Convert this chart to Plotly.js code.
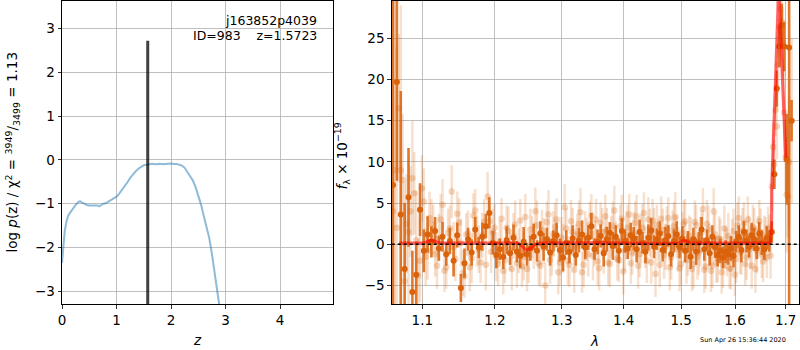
<!DOCTYPE html>
<html>
<head>
<meta charset="utf-8">
<script src="https://cdn.plot.ly/plotly-3.0.1.min.js"></script>
<style>html,body{margin:0;padding:0;background:#fff;}#chart{width:800px;height:350px;}</style>
</head>
<body>
<div id="chart"></div>
<script>
// ---- left panel: redshift probability ----
const zGrid = [0.00,0.02,0.05,0.08,0.11,0.14,0.18,0.22,0.26,0.30,0.33,0.36,0.39,0.42,0.46,0.50,0.55,0.60,0.65,0.68,0.72,0.76,0.80,0.85,0.90,0.95,1.00,1.05,1.10,1.15,1.20,1.25,1.30,1.35,1.40,1.45,1.50,1.55,1.60,1.65,1.70,1.75,1.80,1.85,1.90,1.95,2.00,2.05,2.10,2.15,2.20,2.25,2.30,2.35,2.40,2.45,2.50,2.55,2.60,2.65,2.70,2.75,2.80,2.85,2.90];
const logPz = [-2.35,-1.95,-1.62,-1.42,-1.28,-1.22,-1.14,-1.07,-1.01,-0.96,-0.94,-0.97,-0.99,-1.02,-1.03,-1.04,-1.04,-1.05,-1.04,-1.06,-1.03,-1.00,-0.99,-0.95,-0.90,-0.88,-0.84,-0.77,-0.69,-0.60,-0.51,-0.41,-0.33,-0.26,-0.20,-0.16,-0.12,-0.11,-0.10,-0.09,-0.10,-0.09,-0.09,-0.10,-0.09,-0.08,-0.08,-0.09,-0.09,-0.11,-0.13,-0.18,-0.28,-0.38,-0.47,-0.62,-0.80,-1.02,-1.28,-1.52,-1.78,-2.15,-2.55,-2.95,-3.45];
const zBest = 1.5723;
const zLineY = [-4, 2.72];

// ---- right panel: spectrum ----
const lamA = [1.062,1.067,1.072,1.077,1.082,1.087,1.092,1.097,1.102,1.107,
1.112,1.117,1.122,1.127,1.132,1.137,1.142,1.147,1.152,1.157,
1.162,1.167,1.172,1.177,1.182,1.187,1.192,1.197,1.202,1.207,
1.212,1.217,1.222,1.227,1.232,1.237,1.242,1.247,1.252,1.257,
1.262,1.267,1.272,1.277,1.282,1.287,1.292,1.297,1.302,1.307,
1.312,1.317,1.322,1.327,1.332,1.337,1.342,1.347,1.352,1.357,
1.362,1.367,1.372,1.377,1.382,1.387,1.392,1.397,1.402,1.407,
1.412,1.417,1.422,1.427,1.432,1.437,1.442,1.447,1.452,1.457,
1.462,1.467,1.472,1.477,1.482,1.487,1.492,1.497,1.502,1.507,
1.512,1.517,1.522,1.527,1.532,1.537,1.542,1.547,1.552,1.557,
1.562,1.567,1.572,1.577,1.582,1.587,1.592,1.597,1.602,1.607,
1.612,1.617,1.622,1.627,1.632,1.637,1.642,1.647,1.652,1.657,
1.662,1.667,1.672,1.677,1.682,1.687,1.692,1.697,1.702,1.707,
1.712];
const fluxDark = [7.2,19.7,3.6,-3.0,5.7,-5.8,-3.7,4.2,-0.8,1.2,
0.3,1.6,-0.5,0.9,-1.2,0.4,-2.0,1.1,-5.3,-2.3,
0.6,-1.0,1.8,-0.4,0.9,2.2,3.8,0.2,-1.3,-0.6,
-1.5,0.5,-1.1,0.8,-0.9,-1.4,0.3,-1.2,-0.5,0.9,
-0.8,1.3,-0.3,0.6,-1.0,0.4,1.1,-0.7,-1.6,0.2,
-0.9,0.7,-1.3,0.5,1.2,-0.4,0.8,2.2,-0.6,0.3,
1.0,-1.1,0.6,1.4,-0.2,0.9,-0.8,1.6,0.4,-0.5,
1.1,0.7,-0.6,1.5,0.2,-0.9,0.8,1.7,-0.3,0.6,
1.3,-0.7,0.5,1.0,-1.2,0.4,1.2,-0.4,0.7,-0.8,
0.3,-1.5,0.6,-0.9,0.2,1.8,-0.6,0.5,-1.1,0.9,
-0.4,-1.3,-0.8,-1.6,-0.9,-1.2,-0.5,-1.4,0.3,0.9,
-0.7,1.5,0.4,-0.3,1.1,0.6,-0.5,1.3,0.2,-0.6,
0.8,0.4,1.5,8.5,18.9,24.0,26.6,24.0,10.3,23.9,
15.0];
const errDark = [40,12,15,8,6,5,4,3.2,2.6,2.2,
1.9,1.7,1.5,1.8,1.4,1.6,1.9,1.5,1.7,1.8,
1.4,1.6,1.5,1.3,1.7,1.5,1.9,1.4,1.6,1.3,
1.5,1.7,1.4,1.6,1.3,1.5,1.8,1.4,1.5,1.6,
1.3,1.5,1.7,1.4,1.6,1.3,1.5,1.4,1.7,1.5,
1.4,1.6,1.3,1.5,1.7,1.4,1.5,1.6,1.3,1.5,
1.4,1.6,1.5,1.3,1.7,1.4,1.5,1.6,1.4,1.3,
1.5,1.4,1.6,1.5,1.3,1.4,1.6,1.5,1.4,1.3,
1.5,1.4,1.6,1.3,1.5,1.4,1.6,1.3,1.5,1.4,
1.3,1.5,1.4,1.6,1.3,1.5,1.4,1.3,1.5,1.4,
1.3,1.4,1.5,1.3,1.4,1.3,1.5,1.4,1.3,1.4,
1.5,1.3,1.4,1.3,1.5,1.4,1.3,1.4,1.5,1.3,
1.4,1.3,1.3,1.8,2.2,2.5,2.6,3.0,5.5,40,
2.5];

const lamB = [1.0645,1.0695,1.0745,1.0795,1.0845,1.0895,1.0945,1.0995,1.1045,1.1095,
1.1145,1.1195,1.1245,1.1295,1.1345,1.1395,1.1445,1.1495,1.1545,1.1595,
1.1645,1.1695,1.1745,1.1795,1.1845,1.1895,1.1945,1.1995,1.2045,1.2095,
1.2145,1.2195,1.2245,1.2295,1.2345,1.2395,1.2445,1.2495,1.2545,1.2595,
1.2645,1.2695,1.2745,1.2795,1.2845,1.2895,1.2945,1.2995,1.3045,1.3095,
1.3145,1.3195,1.3245,1.3295,1.3345,1.3395,1.3445,1.3495,1.3545,1.3595,
1.3645,1.3695,1.3745,1.3795,1.3845,1.3895,1.3945,1.3995,1.4045,1.4095,
1.4145,1.4195,1.4245,1.4295,1.4345,1.4395,1.4445,1.4495,1.4545,1.4595,
1.4645,1.4695,1.4745,1.4795,1.4845,1.4895,1.4945,1.4995,1.5045,1.5095,
1.5145,1.5195,1.5245,1.5295,1.5345,1.5395,1.5445,1.5495,1.5545,1.5595,
1.5645,1.5695,1.5745,1.5795,1.5845,1.5895,1.5945,1.5995,1.6045,1.6095,
1.6145,1.6195,1.6245,1.6295,1.6345,1.6395,1.6445,1.6495,1.6545,1.6595,
1.6645,1.6695,1.6745,1.6795,1.6845,1.6895,1.6945,1.6995,1.7045];
const fluxLightA = [9.0,16.5,7.8,2.5,4.0,6.2,-3.8,6.8,-1.5,3.2,
1.8,-2.6,3.0,-3.2,1.4,6.4,-1.8,2.6,-3.5,1.2,
-2.8,3.5,0.4,-2.2,2.7,5.8,-0.9,2.0,-2.4,3.1,
-1.9,1.6,-3.0,2.4,-0.8,-2.7,3.3,-1.6,0.9,4.0,
-2.3,1.7,-5.0,3.6,-1.2,2.1,-3.4,0.8,4.5,-2.0,
2.8,-3.1,1.2,3.9,-2.5,0.6,2.4,-1.4,3.0,-2.9,
1.5,3.4,-2.2,0.9,4.1,-1.7,2.2,-3.3,1.1,3.6,
-1.0,2.6,-2.6,0.7,3.8,-2.0,1.4,2.9,-3.6,0.5,
3.1,-1.3,2.0,-2.8,1.6,3.3,-0.6,-2.4,2.5,-1.9,
1.0,-3.0,2.7,-1.5,0.3,4.3,-2.7,1.8,-3.2,4.0,
-2.2,0.7,-3.4,1.9,-1.0,-2.9,0.4,-3.7,2.3,-1.1,
1.7,-2.4,3.0,-0.5,2.1,-3.0,0.8,1.5,-2.1,0.6,
2.0,-1.4,11.8,16.3,21.8,28.6,24.4,10.6,5.8];
const errLightA = [25,9,8,6,5.5,5,4.5,4,3.5,3.2,
3.0,2.8,3.1,2.6,2.9,3.2,2.7,3.0,2.8,2.6,
2.9,2.7,3.1,2.5,2.8,3.0,2.6,2.9,2.7,2.5,
2.8,3.0,2.6,2.9,2.7,2.5,2.8,3.1,2.6,2.9,
2.7,2.5,2.8,3.0,2.6,2.9,2.7,2.5,2.8,3.0,
2.6,2.8,2.5,2.9,2.7,2.6,2.8,3.0,2.5,2.7,
2.9,2.6,2.8,2.5,3.0,2.7,2.6,2.8,2.9,2.5,
2.7,2.6,2.8,3.0,2.5,2.7,2.9,2.6,2.8,2.5,
2.7,2.9,2.6,2.8,2.5,3.0,2.7,2.6,2.8,2.9,
2.5,2.7,2.6,2.8,3.0,2.5,2.7,2.9,2.6,2.8,
2.5,2.7,2.6,2.8,2.9,2.5,2.7,2.6,2.8,2.5,
2.7,2.6,2.8,2.5,2.7,2.9,2.6,2.8,2.5,2.7,
2.6,2.8,3.0,3.2,3.5,3.8,4.0,4.5,5.0];
const fluxLightB = [4.0,2.0,9.0,-4.5,1.5,8.0,0.5,-2.0,5.2,-0.8,
2.5,-1.2,0.8,4.8,-2.8,1.9,-0.3,3.7,0.2,-3.9,
1.3,-1.7,4.1,-0.6,1.1,-2.5,2.8,1.5,-1.5,0.3,
-3.2,2.0,-0.7,1.0,-2.3,2.9,-1.5,-3.0,1.8,-0.2,
2.3,-2.6,0.4,2.7,-1.9,1.3,3.0,-2.2,-0.5,1.9,
-2.5,1.5,-0.2,2.5,-3.4,1.0,-1.2,3.5,0.1,-2.1,
2.6,-0.9,1.8,-2.4,2.2,0.3,-1.9,3.1,-0.7,2.0,
-2.3,1.2,3.4,-1.2,2.0,-0.4,3.0,-2.2,1.6,2.3,
-2.5,1.7,-0.3,3.2,-1.6,2.2,0.9,-2.9,1.4,2.8,
-1.2,0.5,-2.4,2.3,-1.0,1.5,-3.1,2.5,0.0,-2.6,
1.2,-1.8,0.6,-2.6,-0.4,1.0,-3.0,1.6,-1.8,3.2,
-0.9,2.6,-1.6,0.9,-2.6,1.9,-0.8,2.8,-1.3,1.0,
-1.6,1.1,7.0,9.7,14.3,26.4,27.0,16.0,6.0,10.0,
15.0];
const errLightB = [30,22,20,12,9,7,6,5,4,3.5,
3.0,2.7,2.9,3.1,2.6,2.8,3.0,2.7,2.9,2.6,
2.8,3.0,2.6,2.9,2.7,3.1,2.5,2.8,3.0,2.6,
2.9,2.7,2.5,2.8,3.0,2.6,2.9,2.7,2.5,2.8,
3.0,2.6,2.8,2.5,2.9,2.7,2.6,2.8,3.0,2.5,
2.7,2.9,2.6,2.8,2.5,3.0,2.7,2.6,2.8,2.9,
2.5,2.7,2.6,2.8,3.0,2.5,2.7,2.9,2.6,2.8,
2.5,2.7,2.6,2.8,2.9,2.5,2.7,2.6,2.8,2.5,
2.7,2.6,2.8,2.5,2.7,2.9,2.6,2.8,2.5,2.7,
2.6,2.8,3.0,2.5,2.7,2.6,2.8,2.9,2.5,2.7,
2.6,2.8,2.5,2.7,2.6,2.8,2.5,2.7,2.9,2.6,
2.8,2.5,2.7,2.6,2.8,2.5,2.7,2.6,2.8,2.5,
2.5,2.5,3,3,4,4,5,6,7,8,
10];

const modelLam = [1.070,1.090,1.100,1.105,1.110,1.115,1.120,1.130,1.200,1.235,1.240,1.2465,1.252,1.257,1.262,1.270,1.400,1.495,1.500,1.5037,1.508,1.513,1.518,1.530,1.600,1.660,1.668,1.672,1.676,1.680,1.684,1.6855,1.690,1.695,1.700];
const modelFlux = [0.15,0.15,0.15,0.25,0.45,0.45,0.25,0.15,0.15,0.1,-0.25,-0.7,-0.5,-0.15,0.05,0.15,0.15,0.15,0.3,0.45,0.4,0.25,0.15,0.15,0.15,0.15,0.2,7,14,21,28,31,25.1,17.8,10.5];

const xTicksR = [1.1,1.2,1.3,1.4,1.5,1.6,1.7];
const xTickTextR = ['1.1','1.2','1.3','1.4','1.5','1.6','1.7'];

const ORANGE = 'rgba(217,98,10,1)';
const ORANGE_ERR = 'rgba(217,98,10,0.85)';
const LIGHT = 'rgba(217,98,10,0.25)';
const LIGHT_ERR = 'rgba(217,98,10,0.2)';

const traces = [
  {x: zGrid, y: logPz, type:'scatter', mode:'lines', xaxis:'x', yaxis:'y',
   line:{color:'rgba(31,119,180,0.5)', width:2}, hoverinfo:'skip'},
  {x: [zBest, zBest], y: zLineY, type:'scatter', mode:'lines', xaxis:'x', yaxis:'y',
   line:{color:'rgba(0,0,0,0.75)', width:3}, hoverinfo:'skip'},
  {x: lamB, y: fluxLightA, type:'scatter', mode:'markers', xaxis:'x2', yaxis:'y2',
   marker:{color:LIGHT, size:6.5, line:{width:0}},
   error_y:{type:'data', array: errLightA, visible:true, color:LIGHT_ERR, thickness:2.5, width:0}},
  {x: lamA, y: fluxLightB, type:'scatter', mode:'markers', xaxis:'x2', yaxis:'y2',
   marker:{color:LIGHT, size:6.5, line:{width:0}},
   error_y:{type:'data', array: errLightB, visible:true, color:LIGHT_ERR, thickness:2.5, width:0}},
  {x: lamA, y: fluxDark, type:'scatter', mode:'markers', xaxis:'x2', yaxis:'y2',
   marker:{color:ORANGE, size:6, line:{width:0}},
   error_y:{type:'data', array: errDark, visible:true, color:ORANGE_ERR, thickness:2.6, width:0}},
  {x: modelLam, y: modelFlux, type:'scatter', mode:'lines', xaxis:'x2', yaxis:'y2',
   line:{color:'rgba(255,0,0,0.6)', width:3.2, shape:'spline', smoothing:0.6}, hoverinfo:'skip'}
];

const FONT = 'DejaVu Sans, Liberation Sans, sans-serif';
const axisCommon = {
  showline:true, linecolor:'#000', linewidth:1, mirror:true,
  ticks:'outside', ticklen:3.5, tickwidth:0.8, tickcolor:'#000',
  showgrid:true, gridcolor:'#b0b0b0', gridwidth:0.8, zeroline:false,
  tickfont:{family:FONT, size:13.5, color:'#000'}
};

const layout = {
  width:800, height:350,
  margin:{l:62, r:1, t:1, b:46},
  paper_bgcolor:'#fff', plot_bgcolor:'#fff',
  showlegend:false,
  font:{family:FONT, color:'#000'},
  xaxis: Object.assign({}, axisCommon, {domain:[0, 0.3677], range:[0, 4.97], dtick:1, tick0:0, anchor:'y'}),
  yaxis: Object.assign({}, axisCommon, {domain:[0,1], range:[-3.29, 3.63], dtick:1, tick0:0, anchor:'x'}),
  xaxis2: Object.assign({}, axisCommon, {domain:[0.4474, 1], type:'log', range:[0.02549, 0.23736],
     tickvals:xTicksR, ticktext:xTickTextR, anchor:'y2'}),
  yaxis2: Object.assign({}, axisCommon, {domain:[0,1], range:[-7.25, 29.53], dtick:5, tick0:0, anchor:'x2'}),
  shapes:[
    {type:'line', xref:'x2 domain', yref:'y2', x0:0, x1:1, y0:0, y1:0,
     line:{color:'#000', width:1.6, dash:'dot'}, layer:'above'}
  ],
  annotations:[
    {xref:'paper', yref:'paper', x:0.3487, y:0.937, xanchor:'right', yanchor:'middle', showarrow:false,
     text:'j163852p4039', font:{family:FONT, size:12.5, color:'#000'}},
    {xref:'paper', yref:'paper', x:0.3487, y:0.887, xanchor:'right', yanchor:'middle', showarrow:false,
     text:'ID=983\u00a0\u00a0\u00a0\u00a0z=1.5723', font:{family:FONT, size:12.5, color:'#000'}},
    {xref:'paper', yref:'paper', x:-0.0678, y:0.50, xanchor:'center', yanchor:'middle', showarrow:false, textangle:-90,
     text:'log <i>p</i>(z) / χ<sup>2</sup> = <sup>3949</sup>/<sub>3499</sub> = 1.13', font:{family:FONT, size:13.5, color:'#000'}},
    {xref:'paper', yref:'paper', x:0.3799, y:0.49, xanchor:'center', yanchor:'middle', showarrow:false, textangle:-90,
     text:'<i>f</i><sub>λ</sub> × 10<sup>−19</sup>', font:{family:FONT, size:13.5, color:'#000'}},
    {xref:'paper', yref:'paper', x:0.1832, y:-0.119, xanchor:'center', yanchor:'middle', showarrow:false,
     text:'<i>z</i>', font:{family:FONT, size:13.5, color:'#000'}},
    {xref:'paper', yref:'paper', x:0.7232, y:-0.122, xanchor:'center', yanchor:'middle', showarrow:false,
     text:'<i>λ</i>', font:{family:FONT, size:13.5, color:'#000'}},
    {xref:'paper', yref:'paper', x:0.985, y:-0.119, xanchor:'right', yanchor:'middle', showarrow:false,
     text:'Sun Apr 26 15:36:44 2020', font:{family:FONT, size:6.5, color:'#000'}}
  ]
};

Plotly.newPlot('chart', traces, layout, {staticPlot:true, displayModeBar:false});
</script>
</body>
</html>
